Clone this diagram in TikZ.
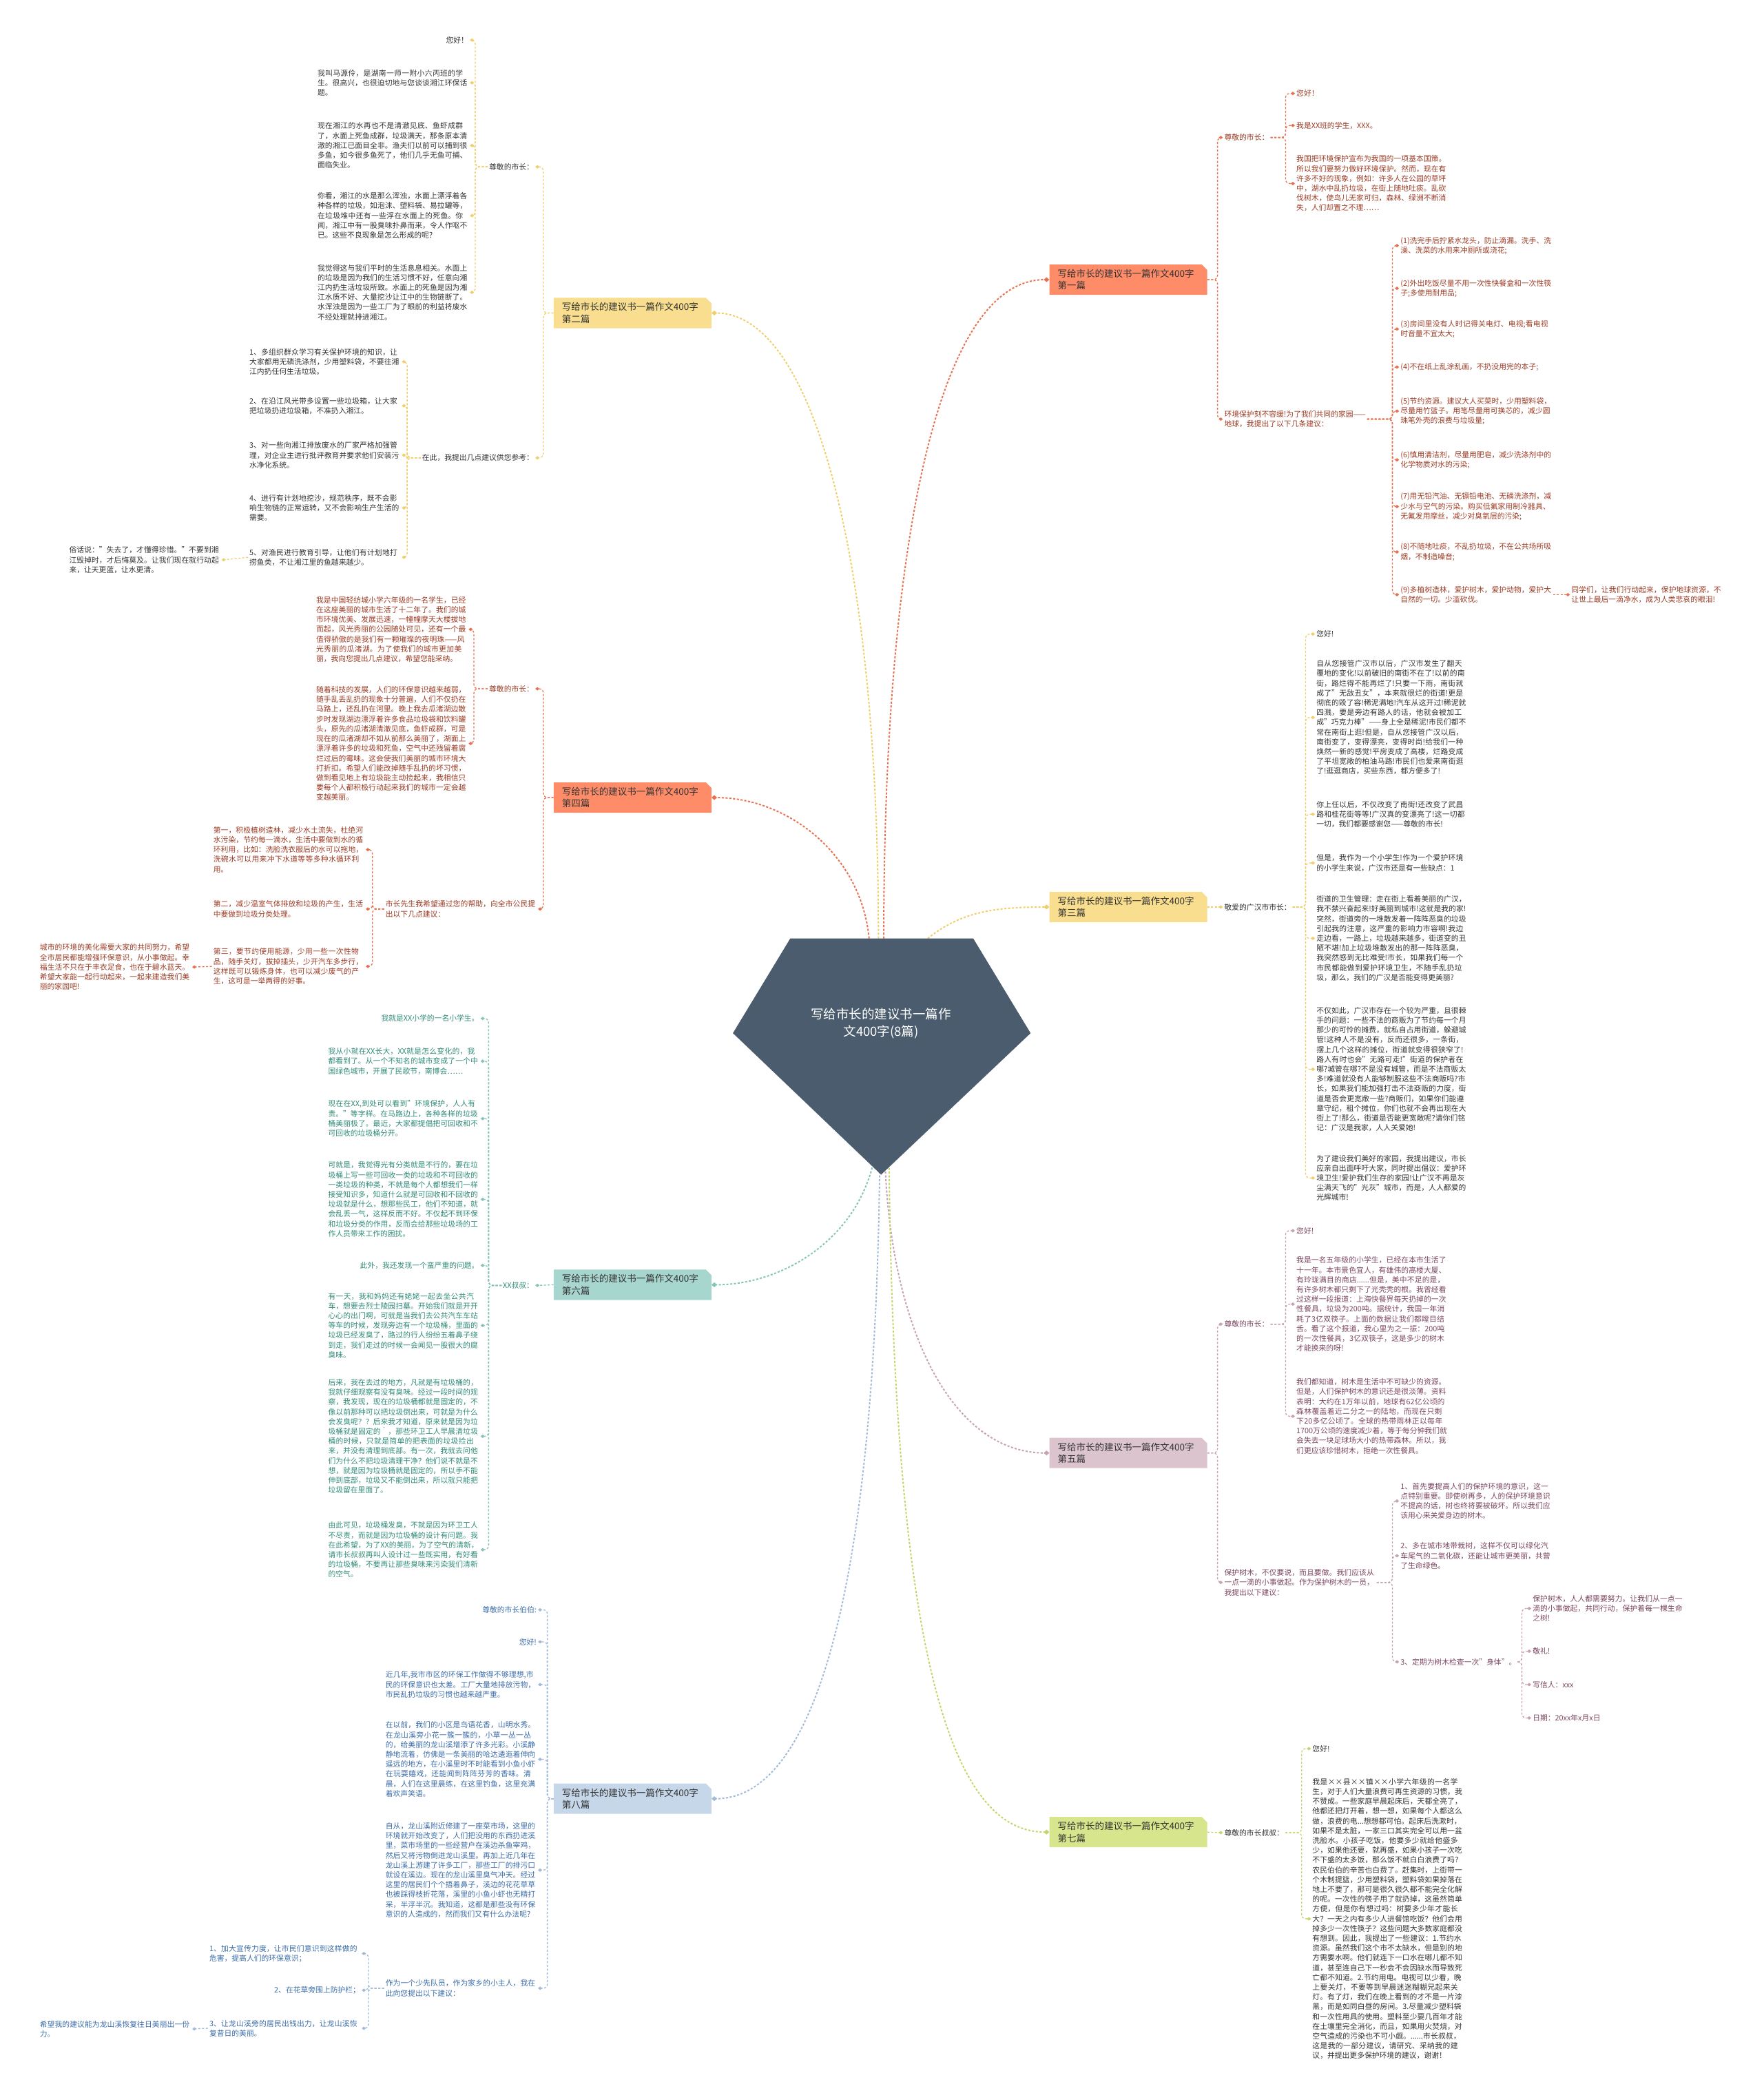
\documentclass[tikz,border=0pt]{standalone}
\usepackage{fontspec}
\setmainfont{Noto Sans CJK SC}
\XeTeXlinebreaklocale "zh"
\XeTeXlinebreakskip = 0pt plus 1pt
\usetikzlibrary{arrows.meta,shapes.misc}

\definecolor{hubc}{HTML}{4A5C6D}
\definecolor{orB}{HTML}{FF8C69}
\definecolor{orL}{HTML}{E8724F}
\definecolor{orT}{HTML}{9B3B24}
\definecolor{yeB}{HTML}{F8DE8E}
\definecolor{yeL}{HTML}{F0CF6A}
\definecolor{dkT}{HTML}{333333}
\definecolor{muB}{HTML}{DCC4CE}
\definecolor{muL}{HTML}{C7A2B2}
\definecolor{muT}{HTML}{7B4660}
\definecolor{tlB}{HTML}{A7D6CE}
\definecolor{tlL}{HTML}{85C4B9}
\definecolor{tlT}{HTML}{2F8B78}
\definecolor{grB}{HTML}{D7E68C}
\definecolor{grL}{HTML}{C0D76A}
\definecolor{blB}{HTML}{C6D7E9}
\definecolor{blL}{HTML}{A2BBD6}
\definecolor{blT}{HTML}{3A6CA8}

\begin{document}
\begin{tikzpicture}[x=1.938pt,y=-1.938pt,
  topic/.style={chamfered rectangle, chamfered rectangle corners=north east,
    chamfered rectangle xsep=4pt, chamfered rectangle ysep=4pt, fill=#1, text=dkT,
    font=\fontsize{13.5}{17.5}\selectfont, text width=205pt, align=left,
    minimum height=40pt, inner xsep=8pt, inner ysep=3pt},
  leaf/.style={font=\fontsize{10.8}{14.2}\selectfont, text width=219pt, align=left,
    inner xsep=2pt, inner ysep=1pt},
  tag/.style={font=\fontsize{10.8}{14.2}\selectfont, align=left, inner xsep=2pt, inner ysep=1pt},
  trunk/.style={draw=#1, line width=2pt, dash pattern=on 3pt off 2.5pt,
    -{Diamond[length=8pt,width=7pt]}},
  twig/.style={draw=ln, line width=1.3pt, dash pattern=on 3pt off 2.5pt,
    rounded corners=6pt, -{Diamond[length=6pt,width=5pt]}}]
\useasboundingbox (0,0) rectangle (1321,1568);

\begin{scope}[text=orT]
\colorlet{ln}{orL}
\node[topic=orB, anchor=west] (b1) at (786,209.5) {写给市长的建议书一篇作文400字\\第一篇};
\node[tag, anchor=west] (a11) at (916,103) {尊敬的市长：};
\node[tag, anchor=west] (a12) at (916,314) {环境保护刻不容缓!为了我们共同的家园——\\地球，我提出了以下几条建议：};
\node[tag, anchor=west] (l11a) at (970,70) {您好！};
\node[tag, anchor=west] (l11b) at (970,94) {我是XX班的学生，XXX。};
\node[leaf, anchor=west] (l11c) at (970,137.5) {我国把环境保护宣布为我国的一项基本国策。所以我们要努力做好环境保护。然而，现在有许多不好的现象，例如：许多人在公园的草坪中，湖水中乱扔垃圾，在街上随地吐痰。乱砍伐树木，使鸟儿无家可归，森林、绿洲不断消失，人们却置之不理……};
\node[leaf, anchor=west] (l12a) at (1048,184) {(1)洗完手后拧紧水龙头，防止滴漏。洗手、洗澡、洗菜的水用来冲厕所或浇花;};
\node[leaf, anchor=west] (l12b) at (1048,216) {(2)外出吃饭尽量不用一次性快餐盒和一次性筷子;多使用耐用品;};
\node[leaf, anchor=west] (l12c) at (1048,246.5) {(3)房间里没有人时记得关电灯、电视;看电视时音量不宜太大;};
\node[leaf, anchor=west] (l12d) at (1048,275) {(4)不在纸上乱涂乱画，不扔没用完的本子;};
\node[leaf, anchor=west] (l12e) at (1048,308) {(5)节约资源。建议大人买菜时，少用塑料袋，尽量用竹篮子。用笔尽量用可换芯的，减少圆珠笔外壳的浪费与垃圾量;};
\node[leaf, anchor=west] (l12f) at (1048,344.5) {(6)慎用清洁剂，尽量用肥皂，减少洗涤剂中的化学物质对水的污染;};
\node[leaf, anchor=west] (l12g) at (1048,379.5) {(7)用无铅汽油、无镉铅电池、无磷洗涤剂，减少水与空气的污染。购买低氟家用制冷器具、无氟发用摩丝，减少对臭氧层的污染;};
\node[leaf, anchor=west] (l12h) at (1048,413.5) {(8)不随地吐痰，不乱扔垃圾，不在公共场所吸烟，不制造噪音;};
\node[leaf, anchor=west] (l12i) at (1048,445.5) {(9)多植树造林，爱护树木，爱护动物，爱护大自然的一切。少滥砍伐。};
\node[leaf, anchor=west] (l12j) at (1176,445.5) {同学们，让我们行动起来，保护地球资源，不让世上最后一滴净水，成为人类悲哀的眼泪!};
\coordinate (k11) at (912,0);
\coordinate (k12) at (963,0);
\coordinate (k13) at (1043,0);
\foreach \n in {a11,a12} \draw[twig] (b1.east) -| (k11 |- \n.west) -- (\n.west);
\foreach \n in {l11a,l11b,l11c} \draw[twig] (a11.east) -| (k12 |- \n.west) -- (\n.west);
\foreach \n in {l12a,l12b,l12c,l12d,l12e,l12f,l12g,l12h,l12i} \draw[twig] (a12.east) -| (k13 |- \n.west) -- (\n.west);
\draw[twig] (l12i.east) -- (l12j.west);
\end{scope}

\begin{scope}[text=dkT]
\colorlet{ln}{yeL}
\node[topic=yeB, anchor=east] (b2) at (533,234.5) {写给市长的建议书一篇作文400字\\第二篇};
\node[tag, anchor=east] (a21) at (401,125) {尊敬的市长：};
\node[tag, anchor=east] (a22) at (401,343) {在此，我提出几点建议供您参考：};
\node[tag, anchor=east] (l21a) at (352,30) {您好！};
\node[leaf, anchor=east] (l21b) at (352,62) {我叫马源伶，是湖南一师一附小六丙班的学生。很高兴，也很迫切地与您谈谈湘江环保话题。};
\node[leaf, anchor=east] (l21c) at (352,109) {现在湘江的水再也不是清澈见底、鱼虾成群了，水面上死鱼成群，垃圾满天，那条原本清澈的湘江已面目全非。渔夫们以前可以捕到很多鱼，如今很多鱼死了，他们几乎无鱼可捕、面临失业。};
\node[leaf, anchor=east] (l21d) at (352,161.5) {你看，湘江的水是那么浑浊，水面上漂浮着各种各样的垃圾，如泡沫、塑料袋、易拉罐等，在垃圾堆中还有一些浮在水面上的死鱼。你闻，湘江中有一股臭味扑鼻而来，令人作呕不已。这些不良现象是怎么形成的呢?};
\node[leaf, anchor=east] (l21e) at (352,219) {我觉得这与我们平时的生活息息相关。水面上的垃圾是因为我们的生活习惯不好，任意向湘江内扔生活垃圾所致。水面上的死鱼是因为湘江水质不好、大量挖沙让江中的生物链断了。水浑浊是因为一些工厂为了眼前的利益将废水不经处理就排进湘江。};
\node[leaf, anchor=east] (l22a) at (301,271) {1、多组织群众学习有关保护环境的知识，让大家都用无磷洗涤剂，少用塑料袋，不要往湘江内扔任何生活垃圾。};
\node[leaf, anchor=east] (l22b) at (301,304) {2、在沿江风光带多设置一些垃圾箱，让大家把垃圾扔进垃圾箱，不准扔入湘江。};
\node[leaf, anchor=east] (l22c) at (301,341) {3、对一些向湘江排放废水的厂家严格加强管理，对企业主进行批评教育并要求他们安装污水净化系统。};
\node[leaf, anchor=east] (l22d) at (301,380.5) {4、进行有计划地挖沙，规范秩序，既不会影响生物链的正常运转，又不会影响生产生活的需要。};
\node[leaf, anchor=east] (l22e) at (301,417.5) {5、对渔民进行教育引导，让他们有计划地打捞鱼类，不让湘江里的鱼越来越少。};
\node[leaf, anchor=east] (l22f) at (166,419.5) {俗话说："失去了，才懂得珍惜。"不要到湘江毁掉时，才后悔莫及。让我们现在就行动起来，让天更蓝，让水更清。};
\coordinate (k21) at (407,0);
\coordinate (k22) at (356,0);
\coordinate (k23) at (305,0);
\foreach \n in {a21,a22} \draw[twig] (b2.west) -| (k21 |- \n.east) -- (\n.east);
\foreach \n in {l21a,l21b,l21c,l21d,l21e} \draw[twig] (a21.west) -| (k22 |- \n.east) -- (\n.east);
\foreach \n in {l22a,l22b,l22c,l22d,l22e} \draw[twig] (a22.west) -| (k23 |- \n.east) -- (\n.east);
\draw[twig] (l22e.west) -- (l22f.east);
\end{scope}

\begin{scope}[text=orT]
\colorlet{ln}{orL}
\node[topic=orB, anchor=east] (b4) at (533,597.5) {写给市长的建议书一篇作文400字\\第四篇};
\node[tag, anchor=east] (a41) at (401,516) {尊敬的市长：};
\node[leaf, anchor=east] (a42) at (403,681) {市长先生我希望通过您的帮助，向全市公民提出以下几点建议：};
\node[leaf, anchor=east] (l41a) at (351,471.5) {我是中国轻纺城小学六年级的一名学生，已经在这座美丽的城市生活了十二年了。我们的城市环境优美、发展迅速，一幢幢摩天大楼拔地而起，风光秀丽的公园随处可见，还有一个最值得骄傲的是我们有一颗璀璨的夜明珠——风光秀丽的瓜渚湖。为了使我们的城市更加美丽，我向您提出几点建议，希望您能采纳。};
\node[leaf, anchor=east] (l41b) at (351,557) {随着科技的发展，人们的环保意识越来越弱，随手乱丢乱扔的现象十分普遍，人们不仅扔在马路上，还乱扔在河里。晚上我去瓜渚湖边散步时发现湖边漂浮着许多食品垃圾袋和饮料罐头，原先的瓜渚湖清澈见底，鱼虾成群，可是现在的瓜渚湖却不如从前那么美丽了，湖面上漂浮着许多的垃圾和死鱼，空气中还残留着腐烂过后的霉味。这会使我们美丽的城市环境大打折扣。希望人们能改掉随手乱扔的坏习惯，做到看见地上有垃圾能主动捡起来，我相信只要每个人都积极行动起来我们的城市一定会越变越美丽。};
\node[leaf, anchor=east] (l42a) at (274,636.5) {第一，积极植树造林，减少水土流失，杜绝河水污染，节约每一滴水，生活中要做到水的循环利用，比如：洗脸洗衣服后的水可以拖地，洗碗水可以用来冲下水道等等多种水循环利用。};
\node[leaf, anchor=east] (l42b) at (274,681) {第二，减少温室气体排放和垃圾的产生，生活中要做到垃圾分类处理。};
\node[leaf, anchor=east] (l42c) at (274,724) {第三，要节约使用能源，少用一些一次性物品，随手关灯，拔掉插头，少开汽车多步行，这样既可以锻炼身体，也可以减少废气的产生，这可是一举两得的好事。};
\node[leaf, anchor=east] (l42d) at (144,724.5) {城市的环境的美化需要大家的共同努力，希望全市居民都能增强环保意识，从小事做起。幸福生活不只在于丰衣足食，也在于碧水蓝天。希望大家能一起行动起来，一起来建造我们美丽的家园吧!};
\coordinate (k41) at (407,0);
\coordinate (k42) at (355,0);
\coordinate (k43) at (279,0);
\foreach \n in {a41,a42} \draw[twig] (b4.west) -| (k41 |- \n.east) -- (\n.east);
\foreach \n in {l41a,l41b} \draw[twig] (a41.west) -| (k42 |- \n.east) -- (\n.east);
\foreach \n in {l42a,l42b,l42c} \draw[twig] (a42.west) -| (k43 |- \n.east) -- (\n.east);
\draw[twig] (l42c.west) -- (l42d.east);
\end{scope}

\begin{scope}[text=tlT]
\colorlet{ln}{tlL}
\node[topic=tlB, anchor=east] (b6) at (533,962.5) {写给市长的建议书一篇作文400字\\第六篇};
\node[tag, anchor=east] (a61) at (401,963) {XX叔叔：};
\node[tag, anchor=east] (l6a) at (360,763) {我就是XX小学的一名小学生。};
\node[leaf, anchor=east] (l6b) at (360,795) {我从小就在XX长大，XX就是怎么变化的，我都看到了。从一个不知名的城市变成了一个中国绿色城市，开展了民歌节，南博会……};
\node[leaf, anchor=east] (l6c) at (360,838) {现在在XX,到处可以看到"环境保护，人人有责。"等字样。在马路边上，各种各样的垃圾桶美丽极了。最近，大家都提倡把可回收和不可回收的垃圾桶分开。};
\node[leaf, anchor=east] (l6d) at (360,898.5) {可就是，我觉得光有分类就是不行的，要在垃圾桶上写一些可回收一类的垃圾和不可回收的一类垃圾的种类，不就是每个人都想我们一样接受知识多，知道什么就是可回收和不回收的垃圾就是什么，想那些民工，他们不知道，就会乱丢一气，这样反而不好。不仅起不到环保和垃圾分类的作用，反而会给那些垃圾场的工作人员带来工作的困扰。};
\node[tag, anchor=east] (l6e) at (360,948) {此外，我还发现一个蛮严重的问题。};
\node[leaf, anchor=east] (l6f) at (360,993) {有一天，我和妈妈还有姥姥一起去坐公共汽车，想要去烈士陵园扫墓。开始我们就是开开心心的出门啊，可就是当我们去公共汽车车站等车的时候，发现旁边有一个垃圾桶，里面的垃圾已经发臭了，路过的行人纷纷五着鼻子绕到走，我们走过的时候一会闻见一股很大的腐臭味。};
\node[leaf, anchor=east] (l6g) at (360,1076) {后来，我在去过的地方，凡就是有垃圾桶的，我就仔细观察有没有臭味。经过一段时间的观察，我发现，现在的垃圾桶都就是固定的，不像以前那种可以把垃圾倒出来，可就是为什么会发臭呢？？后来我才知道，原来就是因为垃圾桶就是固定的｀，那些环卫工人早晨清垃圾桶的时候，只就是简单的把表面的垃圾捡出来，并没有清理到底部。有一次，我就去问他们为什么不把垃圾清理干净？他们说不就是不想，就是因为垃圾桶就是固定的，所以手不能伸到底部，垃圾又不能倒出来，所以就只能把垃圾留在里面了。};
\node[leaf, anchor=east] (l6h) at (360,1161) {由此可见，垃圾桶发臭，不就是因为环卫工人不尽责，而就是因为垃圾桶的设计有问题。我在此希望，为了XX的美丽，为了空气的清新，请市长叔叔再叫人设计过一些既实用，有好看的垃圾桶，不要再让那些臭味来污染我们清新的空气。};
\coordinate (k61) at (366,0);
\draw[twig] (b6.west) -- (a61.east);
\foreach \n in {l6a,l6b,l6c,l6d,l6e,l6f,l6g,l6h} \draw[twig] (a61.west) -| (k61 |- \n.east) -- (\n.east);
\end{scope}

\begin{scope}[text=blT]
\colorlet{ln}{blL}
\node[topic=blB, anchor=east] (b8) at (533,1347.5) {写给市长的建议书一篇作文400字\\第八篇};
\node[tag, anchor=east] (l8a) at (403,1206) {尊敬的市长伯伯:};
\node[tag, anchor=east] (l8b) at (403,1230) {您好!};
\node[leaf, anchor=east] (l8c) at (403,1262) {近几年,我市市区的环保工作做得不够理想,市民的环保意识也太差。工厂大量地排放污物，市民乱扔垃圾的习惯也越来越严重。};
\node[leaf, anchor=east] (l8d) at (403,1318) {在以前，我们的小区是鸟语花香，山明水秀。在龙山溪旁小花一簇一簇的，小草一丛一丛的，给美丽的龙山溪增添了许多光彩。小溪静静地流着，仿佛是一条美丽的哈达逶迤着伸向遥远的地方，在小溪里时不时能看到小鱼小虾在玩耍嬉戏，还能闻到阵阵芬芳的香味。清晨，人们在这里晨练，在这里钓鱼，这里充满着欢声笑语。};
\node[leaf, anchor=east] (l8e) at (403,1401) {自从，龙山溪附近修建了一座菜市场，这里的环境就开始改变了，人们把没用的东西扔进溪里，菜市场里的一些经营户在溪边杀鱼宰鸡，然后又将污物倒进龙山溪里。再加上近几年在龙山溪上游建了许多工厂，那些工厂的排污口就设在溪边。现在的龙山溪里臭气冲天。经过这里的居民们个个捂着鼻子，溪边的花花草草也被踩得枝折花落，溪里的小鱼小虾也无精打采，半浮半沉。我知道，这都是那些没有环保意识的人造成的，然而我们又有什么办法呢?};
\node[leaf, anchor=east] (l8f) at (403,1489.5) {作为一个少先队员，作为家乡的小主人，我在此向您提出以下建议：};
\node[leaf, anchor=east] (l8g) at (271,1463.5) {1、加大宣传力度，让市民们意识到这样做的危害，提高人们的环保意识；};
\node[tag, anchor=east] (l8h) at (271,1491) {2、在花草旁围上防护栏；};
\node[leaf, anchor=east] (l8i) at (271,1519.5) {3、让龙山溪旁的居民出钱出力，让龙山溪恢复昔日的美丽。};
\node[leaf, anchor=east] (l8j) at (144,1520) {希望我的建议能为龙山溪恢复往日美丽出一份力。};
\coordinate (k81) at (410,0);
\coordinate (k82) at (276,0);
\foreach \n in {l8a,l8b,l8c,l8d,l8e,l8f} \draw[twig] (b8.west) -| (k81 |- \n.east) -- (\n.east);
\foreach \n in {l8g,l8h,l8i} \draw[twig] (l8f.west) -| (k82 |- \n.east) -- (\n.east);
\draw[twig] (l8i.west) -- (l8j.east);
\end{scope}

\begin{scope}[text=dkT]
\colorlet{ln}{yeL}
\node[topic=yeB, anchor=west] (b3) at (786,679.5) {写给市长的建议书一篇作文400字\\第三篇};
\node[tag, anchor=west] (a31) at (916,679.5) {敬爱的广汉市市长：};
\node[tag, anchor=west] (l3a) at (985,475) {您好!};
\node[leaf, anchor=west] (l3b) at (985,537.5) {自从您接管广汉市以后，广汉市发生了翻天覆地的变化!以前破旧的南街不在了!以前的南街，路烂得不能再烂了!只要一下雨，南街就成了"无敌丑女"，本来就很烂的街道!更是彻底的毁了容!稀泥满地!汽车从这开过!稀泥就四溅，要是旁边有路人的话，他就会被加工成"巧克力棒"——身上全是稀泥!市民们都不常在南街上逛!但是，自从您接管广汉以后，南街变了，变得漂亮，变得时尚!给我们一种焕然一新的感觉!平房变成了高楼，烂路变成了平坦宽敞的柏油马路!市民们也爱来南街逛了!逛逛商店，买些东西，都方便多了!};
\node[leaf, anchor=west] (l3c) at (985,610) {你上任以后，不仅改变了南街!还改变了武昌路和桂花街等等!广汉真的变漂亮了!这一切都一切，我们都要感谢您——尊敬的市长!};
\node[leaf, anchor=west] (l3d) at (985,646.5) {但是，我作为一个小学生!作为一个爱护环境的小学生来说，广汉市还是有一些缺点：1};
\node[leaf, anchor=west] (l3e) at (985,703) {街道的卫生管理：走在街上看着美丽的广汉，我不禁兴奋起来!好美丽到城市!这就是我的家!突然，街道旁的一堆散发着一阵阵恶臭的垃圾引起我的注意，这严重的影响力市容啊!我边走边看，一路上，垃圾越来越多，街道变的丑陋不堪!加上垃圾堆散发出的那一阵阵恶臭，我突然感到无比难受!市长，如果我们每一个市民都能做到爱护环境卫生，不随手乱扔垃圾，那么，我们的广汉是否能变得更美丽?};
\node[leaf, anchor=west] (l3f) at (985,801) {不仅如此，广汉市存在一个较为严重，且很棘手的问题：一些不法的商贩为了节约每一个月那少的可怜的摊费，就私自占用街道，躲避城管!这种人不是没有，反而还很多，一条街，摆上几个这样的摊位，街道就变得很狭窄了!路人有时也会"无路可走!"街道的保护者在哪?城管在哪?不是没有城管，而是不法商贩太多!难道就没有人能够制服这些不法商贩吗?市长，如果我们能加强打击不法商贩的力度，街道是否会更宽敞一些?商贩们，如果你们能遵章守纪，租个摊位，你们也就不会再出现在大街上了!那么，街道是否能更宽敞呢?请你们铭记：广汉是我家，人人关爱她!};
\node[leaf, anchor=west] (l3g) at (985,882.5) {为了建设我们美好的家园，我提出建议，市长应亲自出面呼吁大家，同时提出倡议：爱护环境卫生!爱护我们生存的家园!让广汉不再是灰尘满天飞的"光灰"城市，而是，人人都爱的光辉城市!};
\coordinate (k31) at (978,0);
\draw[twig] (b3.east) -- (a31.west);
\foreach \n in {l3a,l3b,l3c,l3d,l3e,l3f,l3g} \draw[twig] (a31.east) -| (k31 |- \n.west) -- (\n.west);
\end{scope}

\begin{scope}[text=muT]
\colorlet{ln}{muL}
\node[topic=muB, anchor=west] (b5) at (786,1088.5) {写给市长的建议书一篇作文400字\\第五篇};
\node[tag, anchor=west] (a51) at (916,992) {尊敬的市长：};
\node[leaf, anchor=west] (a52) at (916,1185.5) {保护树木，不仅要说，而且要做。我们应该从一点一滴的小事做起。作为保护树木的一员，我提出以下建议：};
\node[tag, anchor=west] (l51a) at (970,922) {您好!};
\node[leaf, anchor=west] (l51b) at (970,977) {我是一名五年级的小学生，已经在本市生活了十一年。本市景色宜人，有雄伟的高楼大厦、有玲珑满目的商店......但是，美中不足的是，有许多树木都只剩下了光秃秃的根。我曾经看过这样一段报道：上海快餐界每天扔掉的一次性餐具，垃圾为200吨。据统计，我国一年消耗了3亿双筷子。上面的数据让我们都瞠目结舌。看了这个报道，我心里为之一振：200吨的一次性餐具，3亿双筷子，这是多少的树木才能换来的呀!};
\node[leaf, anchor=west] (l51c) at (970,1061) {我们都知道，树木是生活中不可缺少的资源。但是，人们保护树木的意识还是很淡薄。资料表明：大约在1万年以前，地球有62亿公顷的森林覆盖着近二分之一的陆地，而现在只剩下20多亿公顷了。全球的热带雨林正以每年1700万公顷的速度减少着，等于每分钟我们就会失去一块足球场大小的热带森林。所以，我们更应该珍惜树木，拒绝一次性餐具。};
\node[leaf, anchor=west] (l52a) at (1048,1124.5) {1、首先要提高人们的保护环境的意识，这一点特别重要。即使树再多，人的保护环境意识不提高的话，树也终将要被破坏。所以我们应该用心来关爱身边的树木。};
\node[leaf, anchor=west] (l52b) at (1048,1165.5) {2、多在城市地带栽树，这样不仅可以绿化汽车尾气的二氧化碳，还能让城市更美丽，共营了生命绿色。};
\node[tag, anchor=west] (l52c) at (1048,1245) {3、定期为树木检查一次"身体"。};
\node[leaf, anchor=west] (l53a) at (1147,1205) {保护树木，人人都需要努力。让我们从一点一滴的小事做起，共同行动，保护着每一棵生命之树!};
\node[tag, anchor=west] (l53b) at (1147,1237) {敬礼!};
\node[tag, anchor=west] (l53c) at (1147,1262) {写信人：xxx};
\node[tag, anchor=west] (l53d) at (1147,1287) {日期：20xx年x月x日};
\coordinate (k51) at (912,0);
\coordinate (k52) at (963,0);
\coordinate (k53) at (1043,0);
\coordinate (k54) at (1140,0);
\foreach \n in {a51,a52} \draw[twig] (b5.east) -| (k51 |- \n.west) -- (\n.west);
\foreach \n in {l51a,l51b,l51c} \draw[twig] (a51.east) -| (k52 |- \n.west) -- (\n.west);
\foreach \n in {l52a,l52b,l52c} \draw[twig] (a52.east) -| (k53 |- \n.west) -- (\n.west);
\foreach \n in {l53a,l53b,l53c,l53d} \draw[twig] (l52c.east) -| (k54 |- \n.west) -- (\n.west);
\end{scope}

\begin{scope}[text=dkT]
\colorlet{ln}{grL}
\node[topic=grB, anchor=west] (b7) at (786,1372.5) {写给市长的建议书一篇作文400字\\第七篇};
\node[tag, anchor=west] (a71) at (916,1373) {尊敬的市长叔叔：};
\node[tag, anchor=west] (l7a) at (982,1310) {您好!};
\node[leaf, anchor=west] (l7b) at (982,1437.5) {我是××县××镇××小学六年级的一名学生，对于人们大量浪费可再生资源的习惯，我不赞成。一些家庭早晨起床后，天都全亮了，他都还把灯开着，想一想，如果每个人都这么做，浪费的电...想想都可怕。起床后洗漱时，如果不是太脏，一家三口其实完全可以用一盆洗脸水。小孩子吃饭，他要多少就给他盛多少，如果他还要，就再盛，如果小孩子一次吃不下盛的太多饭，那么饭不就白白浪费了吗？农民伯伯的辛苦也白费了。赶集时，上街带一个木制提篮，少用塑料袋，塑料袋如果掉落在地上不要了，那可是很久很久都不能完全化解的呢。一次性的筷子用了就扔掉，这虽然简单方便，但是你有想过吗：树要多少年才能长大？一天之内有多少人进餐馆吃饭？他们会用掉多少一次性筷子？这些问题大多数家庭都没有想到。因此，我提出了一些建议：1.节约水资源。虽然我们这个市不太缺水，但是别的地方需要水啊。他们就连下一口水在哪儿都不知道，甚至连自己下一秒会不会因缺水而导致死亡都不知道。2.节约用电。电视可以少看，晚上要关灯，不要等到早晨迷迷糊糊兄起来关灯。有了灯，我们在晚上看到的才不是一片漆黑，而是如同白昼的房间。3.尽量减少塑料袋和一次性用具的使用。塑料至少要几百年才能在土壤里完全消化，而且，如果用火焚烧，对空气造成的污染也不可小觑。......市长叔叔，这是我的一部分建议，请研究、采纳我的建议，并提出更多保护环境的建议，谢谢！};
\coordinate (k71) at (975,0);
\draw[twig] (b7.east) -- (a71.west);
\foreach \n in {l7a,l7b} \draw[twig] (a71.east) -| (k71 |- \n.west) -- (\n.west);
\end{scope}

\coordinate (s1) at (662,703);
\coordinate (s2) at (658,703);
\coordinate (s3) at (695,703);
\coordinate (s4) at (651,703);
\coordinate (s5) at (663,872);
\coordinate (s6) at (654,872);
\coordinate (s7) at (666,872);
\coordinate (s8) at (659,872);
\draw[trunk=orL] (s1) .. controls (662,420) and (700,209.5) .. (b1.west);
\draw[trunk=yeL] (s2) .. controls (658,420) and (610,234.5) .. (b2.east);
\draw[trunk=yeL] (s3) .. controls (720,683) and (745,679.5) .. (b3.west);
\draw[trunk=orL] (s4) .. controls (645,640) and (590,597.5) .. (b4.east);
\draw[trunk=muL] (s5) .. controls (668,1000) and (715,1088.5) .. (b5.west);
\draw[trunk=tlL] (s6) .. controls (640,930) and (585,962.5) .. (b6.east);
\draw[trunk=grL] (s7) .. controls (670,1250) and (715,1372.5) .. (b7.west);
\draw[trunk=blL] (s8) .. controls (655,1230) and (600,1347.5) .. (b8.east);

\fill[hubc] (592,703) -- (729,703) -- (772,774) -- (660,880) -- (549,774) -- cycle;
\node[text=white, font=\fontsize{18.5}{25}\selectfont, align=center] (hub) at (660,766.5) {写给市长的建议书一篇作\\文400字(8篇)};
\end{tikzpicture}
\end{document}
